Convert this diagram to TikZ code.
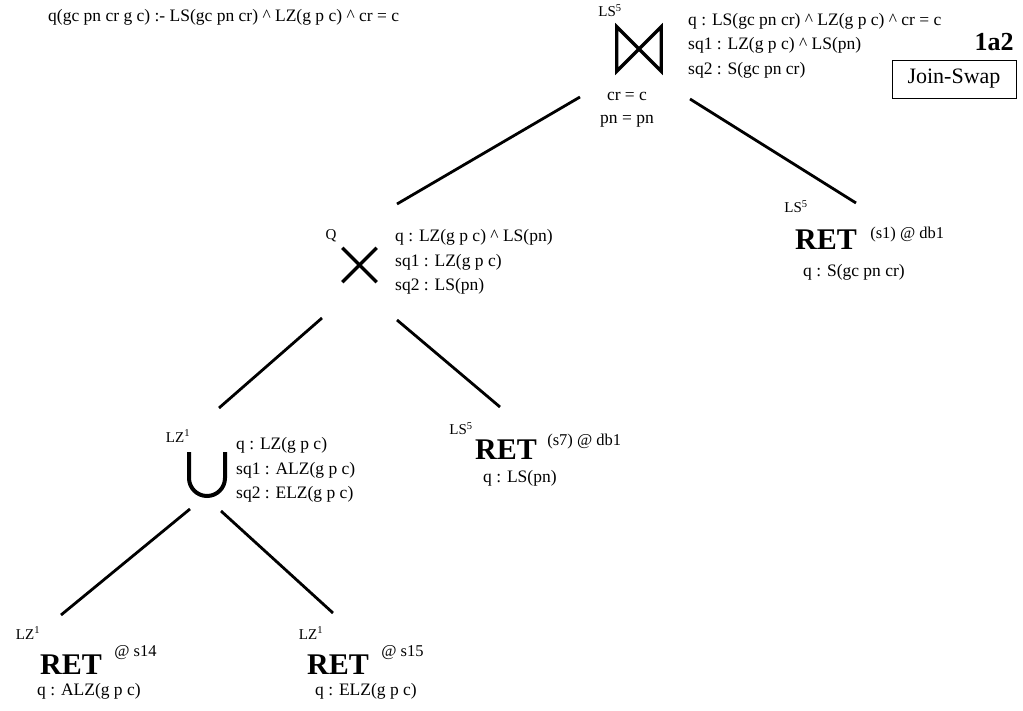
\documentclass[tikz,border=0pt]{standalone}
\usepackage{fontspec}
\setmainfont{Liberation Serif}
\usetikzlibrary{positioning}

\begin{document}
\begin{tikzpicture}[x=1pt, y=-1pt,
    edge/.style={line width=2.8pt},
    opline/.style={line width=3.2pt},
    opnode/.style={inner sep=0pt, minimum width=#1, minimum height=#1},
    info/.style={font=\fontsize{17.5}{24.5}\selectfont, align=left, inner sep=0pt, anchor=west},
    site/.style={font=\fontsize{15}{16}\selectfont, inner sep=0pt},
    ret/.style={font=\fontsize{30}{30}\selectfont\bfseries, inner sep=0pt, anchor=west},
    loc/.style={font=\fontsize{16.5}{18}\selectfont, inner sep=0pt, anchor=west}
  ]
    \useasboundingbox (0,0) rectangle (1023,711);

    % query and rule name
    \node[info] (query) at (48,17) {q(gc pn cr g c) :- LS(gc pn cr) \textasciicircum{} LZ(g p c) \textasciicircum{} cr = c};
    \node[font=\fontsize{26}{26}\selectfont\bfseries, inner sep=0pt] (rule) at (994,42) {1a2};
    \node[draw, line width=0.8pt, inner sep=0pt, minimum width=124, minimum height=38,
          font=\fontsize{22}{22}\selectfont] (swap) at (954,79) {Join-Swap};

    % join
    \node[opnode=44] (join) at (639,49) {};
    \draw[opline, line join=miter] (join.north west) -- (join.south west) -- (join.north east)
      -- (join.south east) -- cycle;
    \node[site] (join-site) at (610,11) {LS\textsuperscript{5}};
    \node[font=\fontsize{17.5}{23}\selectfont, align=center, inner sep=0pt] (join-cond) at (627,110) {cr = c\\pn = pn};
    \node[info] (join-info) at (688,45.5) {q : LS(gc pn cr) \textasciicircum{} LZ(g p c) \textasciicircum{} cr = c\\
      sq1 : LZ(g p c) \textasciicircum{} LS(pn)\\
      sq2 : S(gc pn cr)};

    % cross product
    \node[opnode=34] (cross) at (359.5,265) {};
    \draw[opline] (cross.north west) -- (cross.south east);
    \draw[opline] (cross.south west) -- (cross.north east);
    \node[site] (cross-site) at (331,236) {Q};
    \node[info] (cross-info) at (395,262) {q : LZ(g p c) \textasciicircum{} LS(pn)\\
      sq1 : LZ(g p c)\\
      sq2 : LS(pn)};

    % union
    \node[opnode=36] (union) at (207,474) {};
    \draw[line width=4pt] (189,452) -- (189,478) arc[start angle=180, end angle=360, radius=18pt] -- (225,452);
    \node[site] (union-site) at (178,436) {LZ\textsuperscript{1}};
    \node[info] (union-info) at (236,470) {q : LZ(g p c)\\
      sq1 : ALZ(g p c)\\
      sq2 : ELZ(g p c)};

    % retrievals
    \node[ret] (ret-s1) at (795,240) {RET};
    \node[loc, right=13pt of ret-s1, yshift=5pt] (ret-s1-loc) {(s1) @ db1};
    \node[site] (ret-s1-site) at (796,207) {LS\textsuperscript{5}};
    \node[info] (ret-s1-q) at (803,272) {q : S(gc pn cr)};

    \node[ret] (ret-s7) at (475,450) {RET};
    \node[loc, right=10pt of ret-s7, yshift=8pt] (ret-s7-loc) {(s7) @ db1};
    \node[site] (ret-s7-site) at (461,429) {LS\textsuperscript{5}};
    \node[info] (ret-s7-q) at (483,478) {q : LS(pn)};

    \node[ret] (ret-s14) at (40,665) {RET};
    \node[loc, right=12pt of ret-s14, yshift=12pt] (ret-s14-loc) {@ s14};
    \node[site] (ret-s14-site) at (28,633) {LZ\textsuperscript{1}};
    \node[info] (ret-s14-q) at (37,691) {q : ALZ(g p c)};

    \node[ret] (ret-s15) at (307,665) {RET};
    \node[loc, right=12pt of ret-s15, yshift=12pt] (ret-s15-loc) {@ s15};
    \node[site] (ret-s15-site) at (311,633) {LZ\textsuperscript{1}};
    \node[info] (ret-s15-q) at (315,691) {q : ELZ(g p c)};

    % edge ends
    \coordinate (join-l) at (580,97);
    \coordinate (join-r) at (690,99);
    \coordinate (cross-up) at (397,204);
    \coordinate (s1-up) at (856,203);
    \coordinate (cross-l) at (322,318);
    \coordinate (cross-r) at (397,320);
    \coordinate (union-up) at (219,408);
    \coordinate (s7-up) at (500,407);
    \coordinate (union-l) at (190,509);
    \coordinate (union-r) at (221,511);
    \coordinate (s14-up) at (61,615);
    \coordinate (s15-up) at (333,613);

    \draw[edge] (join-l) -- (cross-up);
    \draw[edge] (join-r) -- (s1-up);
    \draw[edge] (cross-l) -- (union-up);
    \draw[edge] (cross-r) -- (s7-up);
    \draw[edge] (union-l) -- (s14-up);
    \draw[edge] (union-r) -- (s15-up);
  \end{tikzpicture}
\end{document}
